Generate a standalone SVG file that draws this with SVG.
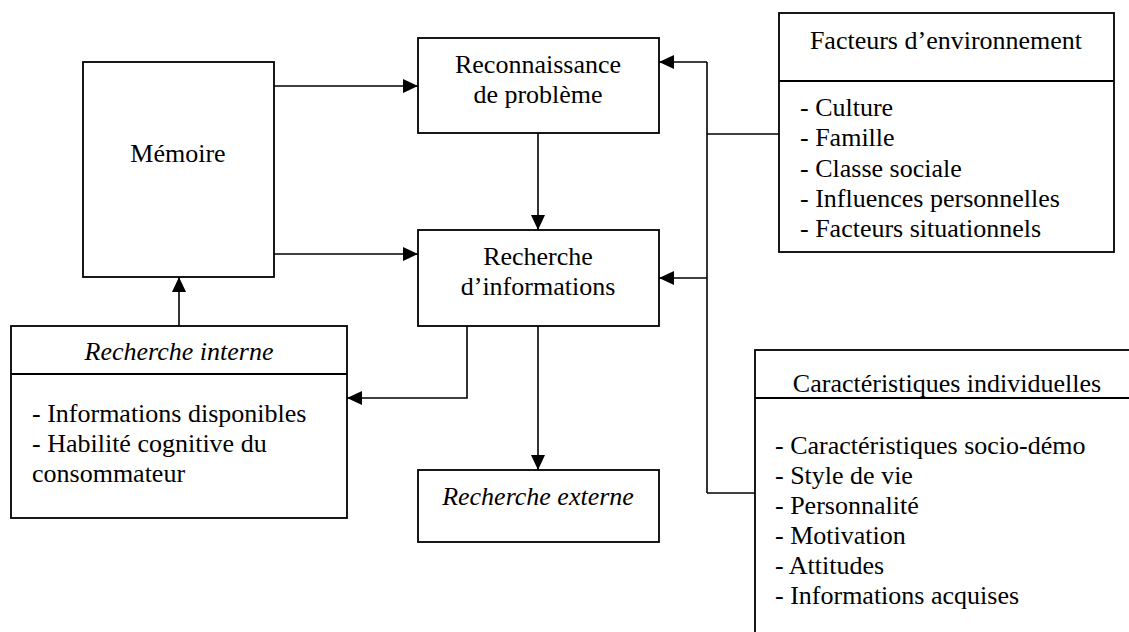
<svg xmlns="http://www.w3.org/2000/svg" width="1129" height="632" viewBox="0 0 1129 632">
<style>
.box{fill:#fff;stroke:#000;stroke-width:1.8}
.div{stroke:#000;stroke-width:1.8}
.t{font-family:"Liberation Serif","Times New Roman",serif;font-size:26px;fill:#000}
.c{text-anchor:middle}
.i{font-style:italic}
.ln{fill:none;stroke:#000;stroke-width:1.6}
</style>
<defs>
<marker id="ah" markerUnits="userSpaceOnUse" markerWidth="15" markerHeight="14" refX="15" refY="7" orient="auto">
<path d="M0,0 L15,7 L0,14 z" fill="#000"/>
</marker>
</defs>
<rect width="1129" height="632" fill="#fff"/>
<g id="connectors">
<line class="ln" x1="274" y1="86" x2="418" y2="86" marker-end="url(#ah)"/>
<line class="ln" x1="274" y1="254" x2="418" y2="254" marker-end="url(#ah)"/>
<line class="ln" x1="179" y1="326" x2="179" y2="277" marker-end="url(#ah)"/>
<line class="ln" x1="538" y1="133" x2="538" y2="230" marker-end="url(#ah)"/>
<line class="ln" x1="538" y1="326" x2="538" y2="470" marker-end="url(#ah)"/>
<polyline class="ln" points="467,326 467,398 347,398" marker-end="url(#ah)"/>
<line class="ln" x1="707" y1="62" x2="707" y2="493"/>
<line class="ln" x1="707" y1="62" x2="659" y2="62" marker-end="url(#ah)"/>
<line class="ln" x1="707" y1="278" x2="659" y2="278" marker-end="url(#ah)"/>
<line class="ln" x1="779" y1="134" x2="707" y2="134"/>
<line class="ln" x1="755" y1="493" x2="707" y2="493"/>
</g>
<g id="memoire">
<rect class="box" x="83" y="62" width="191" height="215"/>
<text class="t c" x="178" y="162">Mémoire</text>
</g>
<g id="reconnaissance">
<rect class="box" x="418" y="38" width="241" height="95"/>
<text class="t c" x="538" y="73">Reconnaissance</text>
<text class="t c" x="538" y="103">de problème</text>
</g>
<g id="recherche-info">
<rect class="box" x="418" y="230" width="241" height="96"/>
<text class="t c" x="538" y="265">Recherche</text>
<text class="t c" x="538" y="295">d’informations</text>
</g>
<g id="recherche-externe">
<rect class="box" x="418" y="470" width="241" height="72"/>
<text class="t c i" x="538" y="505">Recherche externe</text>
</g>
<g id="recherche-interne">
<rect class="box" x="11" y="326" width="336" height="192"/>
<line class="div" x1="11" y1="374" x2="347" y2="374"/>
<text class="t c i" x="179" y="360">Recherche interne</text>
<text class="t" x="32" y="422">- Informations disponibles</text>
<text class="t" x="32" y="452">- Habilité cognitive du</text>
<text class="t" x="32" y="482">consommateur</text>
</g>
<g id="facteurs">
<rect class="box" x="779" y="13" width="335" height="239"/>
<line class="div" x1="779" y1="81" x2="1114" y2="81"/>
<text class="t c" x="946" y="49">Facteurs d’environnement</text>
<text class="t" x="800" y="116">- Culture</text>
<text class="t" x="800" y="146">- Famille</text>
<text class="t" x="800" y="177">- Classe sociale</text>
<text class="t" x="800" y="207">- Influences personnelles</text>
<text class="t" x="800" y="237">- Facteurs situationnels</text>
</g>
<g id="caracteristiques">
<rect class="box" x="755" y="350" width="400" height="320"/>
<line class="div" x1="755" y1="398" x2="1155" y2="398"/>
<text class="t c" x="947" y="392">Caractéristiques individuelles</text>
<text class="t" x="775" y="454">- Caractéristiques socio-démo</text>
<text class="t" x="775" y="484">- Style de vie</text>
<text class="t" x="775" y="514">- Personnalité</text>
<text class="t" x="775" y="544">- Motivation</text>
<text class="t" x="775" y="574">- Attitudes</text>
<text class="t" x="775" y="604">- Informations acquises</text>
</g>
</svg>
